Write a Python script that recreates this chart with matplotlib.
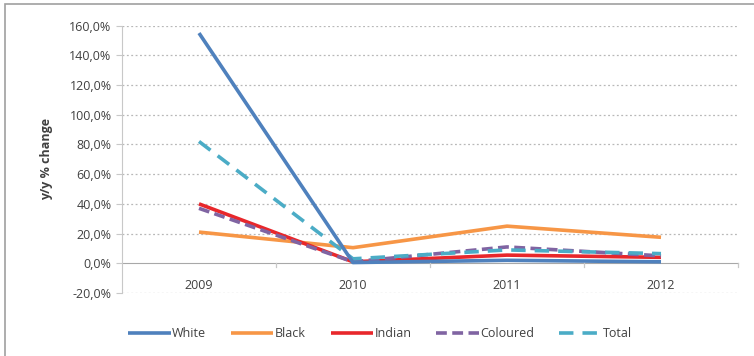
"""
y/y % change by population group
"""
import matplotlib
matplotlib.use("Agg")
import matplotlib.pyplot as plt
from matplotlib.patches import Rectangle
from matplotlib.ticker import FuncFormatter

years = ["2009", "2010", "2011", "2012"]
white = [155.0, 0.5, 2.0, 1.0]
black = [21.0, 10.5, 25.0, 17.5]
indian = [40.0, 1.0, 5.5, 4.0]
coloured = [37.0, 1.0, 11.0, 5.0]
total = [82.0, 3.0, 9.0, 6.5]

yticks = [-20, 0, 20, 40, 60, 80, 100, 120, 140, 160]

TEXT_COLOR = "#404040"
GRID_COLOR = "#b8b8b8"

plt.rcParams['font.family'] = ['Open Sans', 'DejaVu Sans']

fig = plt.figure(figsize=(7.54, 3.56), dpi=100)
ax = fig.add_axes([0.1618, 0.177, 0.8170, 0.751])

# outer frame, running off the right and bottom edges
fig.patches.append(Rectangle((0.007, -0.05), 1.05, 1.039, transform=fig.transFigure,
                             fill=False, edgecolor="#a0a0a0", linewidth=1.2))

xs = range(len(years))
ax.plot(xs, black, color="#F79646", linewidth=2.6, label="Black", solid_capstyle="butt")
ax.plot(xs, indian, color="#E8272B", linewidth=2.6, label="Indian", solid_capstyle="butt")
ax.plot(xs, coloured, color="#8064A2", linewidth=2.6, linestyle=(0, (3, 1.5)), label="Coloured")
ax.plot(xs, total, color="#4BACC6", linewidth=2.6, linestyle=(0, (4, 2.5)), label="Total")
ax.plot(xs, white, color="#4F81BD", linewidth=2.6, label="White", solid_capstyle="butt")

ax.set_xlim(-0.5, 3.5)
ax.set_ylim(-20, 160)
ax.set_yticks(yticks)
ax.yaxis.set_major_formatter(FuncFormatter(lambda v, p: f"{v:.1f}%".replace(".", ",")))
ax.set_xticks(list(xs))
ax.set_xticklabels(years)

for y in yticks:
    if y != 0:
        ax.axhline(y, color=GRID_COLOR, linewidth=0.9, linestyle=(0, (1.5, 2)), zorder=0)

# category axis crosses at 0
ax.spines["bottom"].set_position(("data", 0))
ax.spines["bottom"].set_color("#a8a8a8")
ax.spines["bottom"].set_zorder(1)
for s in ["top", "right"]:
    ax.spines[s].set_visible(False)
ax.spines["left"].set_color("#c8c8c8")

ax.tick_params(axis="x", length=0, pad=11, labelsize=9, colors=TEXT_COLOR)
ax.tick_params(axis="y", length=4, color="#c8c8c8", labelsize=9, colors=TEXT_COLOR)
for xt in [0.5, 1.5, 2.5, 3.5]:
    ax.plot([xt, xt], [0, -2.5], color="#c8c8c8", linewidth=0.9, clip_on=False)

ax.set_ylabel("y/y % change", fontsize=9, fontweight="bold", color=TEXT_COLOR, labelpad=12)

handles, labels = ax.get_legend_handles_labels()
order = [4, 0, 1, 2, 3]
fig.legend([handles[i] for i in order], [labels[i] for i in order],
           loc="center", bbox_to_anchor=(0.504, 0.063), ncol=5, frameon=False,
           fontsize=9, handlelength=3.4, handletextpad=0.1, columnspacing=2.0,
           labelcolor=TEXT_COLOR)

fig.savefig("out.png", dpi=100)
